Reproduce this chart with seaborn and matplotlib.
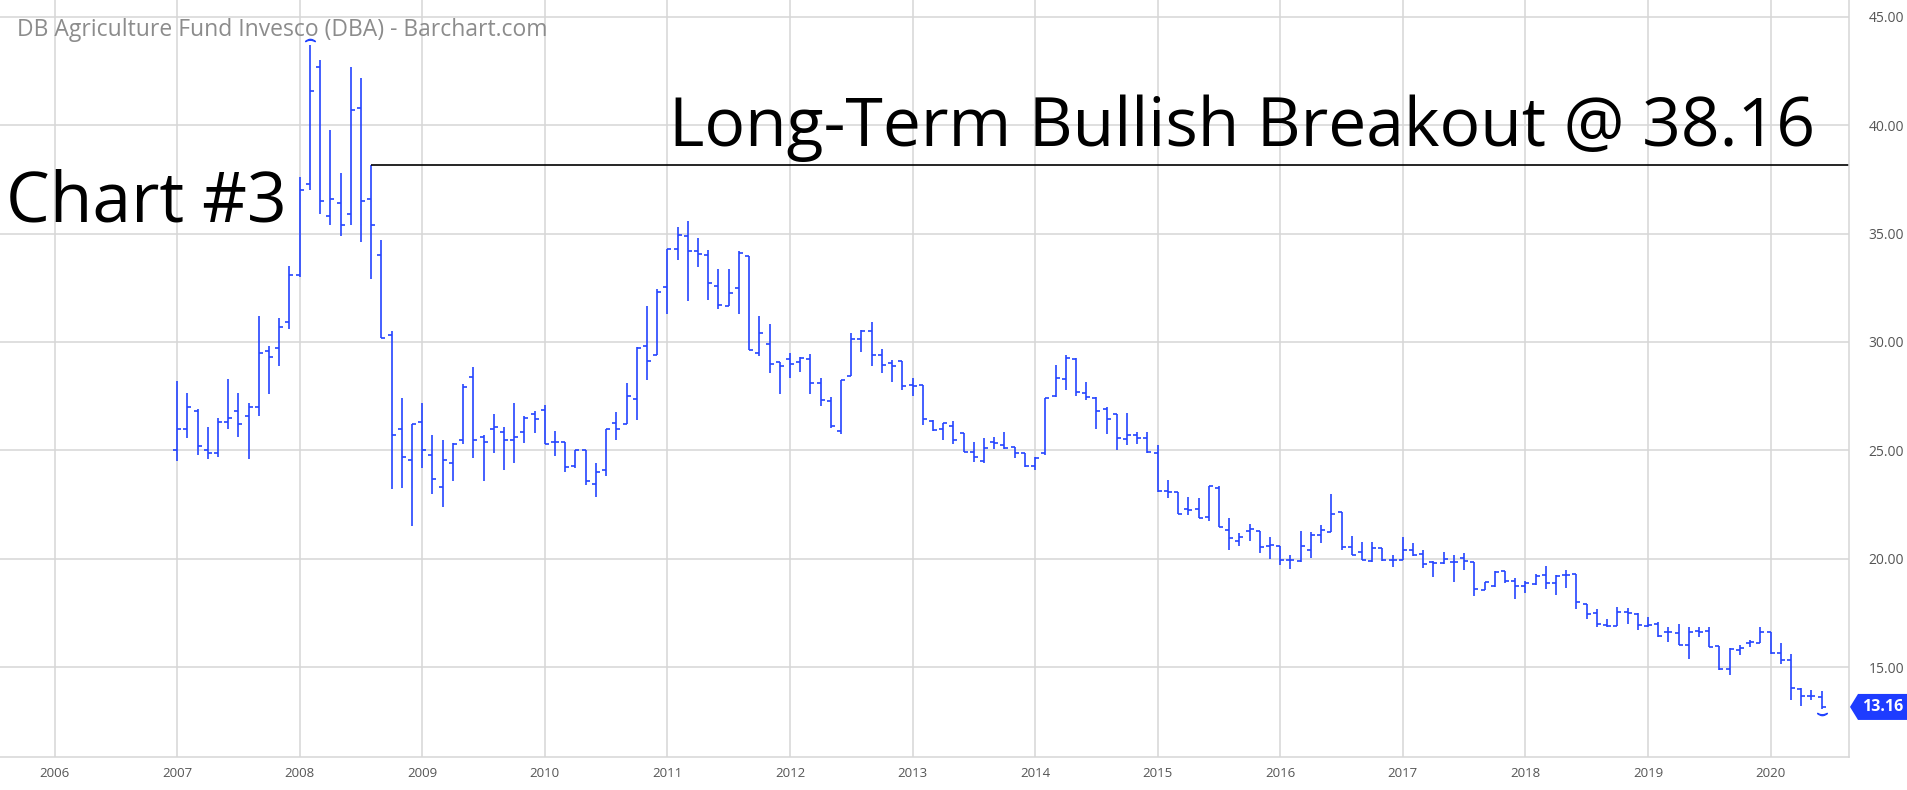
import numpy as np
import pandas as pd
import matplotlib
matplotlib.use("Agg")
import matplotlib.pyplot as plt
import matplotlib.transforms as mtransforms
from matplotlib.patches import Polygon
import seaborn as sns

# monthly OHLC, Jan 2007 .. Jun 2020
opens = [
    25.0, 26.0, 26.8, 25.0, 24.9, 26.3, 26.8, 26.6, 27.0, 29.6, 29.7, 30.9,
    33.1, 37.3, 42.7, 35.8, 36.4, 35.9, 40.8, 36.6, 34.0, 30.3, 26.0, 24.55,
    26.3, 24.8, 23.3, 24.4, 25.5, 28.4, 25.6, 26.0, 25.85, 25.5, 25.85, 26.7,
    26.85, 25.4, 25.4, 24.3, 25.0, 23.45, 24.1, 26.25, 26.2, 27.35, 29.8, 29.4,
    32.55, 34.3, 34.9, 34.2, 34.0, 32.6, 31.67, 32.5, 33.96, 29.5, 29.92, 29.06,
    29.23, 29.08, 29.2, 28.1, 27.27, 25.9, 28.42, 30.14, 30.5, 29.42, 29.03, 29.1,
    28.0, 28.0, 26.35, 25.97, 26.12, 25.8, 24.92, 24.5, 25.38, 25.23, 25.17, 24.9,
    24.28, 24.86, 27.5, 28.3, 29.2, 27.65, 27.42, 26.92, 26.66, 25.54, 25.7, 25.58,
    24.86, 23.13, 23.1, 22.28, 22.28, 21.93, 23.28, 21.33, 20.8, 21.3, 21.29, 20.6,
    20.57, 19.95, 19.88, 20.39, 21.09, 21.24, 22.14, 20.54, 20.31, 19.88, 20.5, 19.92,
    19.95, 20.42, 20.2, 19.84, 19.81, 19.84, 20.03, 19.84, 18.57, 18.73, 19.43, 18.99,
    18.76, 18.81, 19.24, 18.89, 19.24, 19.29, 17.9, 17.5, 16.96, 16.89, 17.55, 17.47,
    16.89, 17.01, 16.63, 16.55, 16.01, 16.66, 16.66, 15.96, 14.93, 15.81, 16.13, 16.13,
    16.63, 15.65, 15.32, 14.01, 13.65, 13.62,
]
highs = [
    28.2, 27.65, 26.9, 26.1, 26.5, 28.3, 27.65, 27.2, 31.2, 29.8, 31.1, 33.5,
    37.6, 43.7, 43.0, 39.8, 37.8, 42.7, 42.2, 38.16, 34.7, 30.5, 27.4, 26.2,
    27.2, 25.7, 25.5, 25.35, 28.05, 28.85, 25.7, 26.7, 26.1, 27.2, 26.6, 26.8,
    27.1, 25.9, 25.4, 25.0, 25.0, 24.4, 26.0, 26.75, 28.1, 29.75, 31.67, 32.45,
    34.3, 35.3, 35.57, 34.8, 34.24, 33.35, 33.35, 34.2, 33.96, 31.2, 30.84, 29.06,
    29.5, 29.3, 29.46, 28.34, 27.47, 28.24, 30.41, 30.57, 30.9, 29.68, 29.16, 29.1,
    28.34, 28.0, 26.4, 26.27, 26.35, 25.8, 25.4, 25.55, 25.63, 25.84, 25.17, 24.9,
    24.7, 27.42, 28.93, 29.39, 29.26, 28.14, 27.47, 27.0, 26.66, 26.73, 25.86, 25.86,
    25.23, 23.64, 23.1, 22.87, 22.8, 23.36, 23.36, 21.86, 21.18, 21.6, 21.29, 20.98,
    20.6, 20.19, 21.27, 21.24, 21.55, 23.0, 22.14, 21.04, 20.78, 20.78, 20.5, 20.16,
    20.98, 20.73, 20.42, 19.88, 20.31, 20.16, 20.26, 19.84, 18.94, 19.41, 19.43, 19.1,
    18.99, 19.29, 19.66, 19.24, 19.5, 19.29, 17.9, 17.66, 17.2, 17.78, 17.74, 17.5,
    17.32, 17.09, 16.86, 16.98, 16.83, 16.86, 16.86, 15.96, 15.86, 16.01, 16.27, 16.83,
    16.63, 16.09, 15.59, 14.05, 13.93, 13.88,
]
lows = [
    24.5, 25.55, 24.8, 24.6, 24.7, 26.0, 25.6, 24.6, 26.6, 27.6, 28.9, 30.6,
    33.0, 37.0, 35.9, 35.4, 34.9, 35.4, 34.6, 32.9, 30.2, 23.2, 23.25, 21.5,
    24.2, 23.0, 22.4, 23.6, 25.3, 24.65, 23.6, 24.9, 24.1, 24.4, 25.35, 25.8,
    25.3, 24.75, 24.0, 24.2, 23.4, 22.86, 23.8, 25.5, 26.2, 26.4, 28.24, 29.4,
    31.3, 33.8, 31.87, 33.44, 31.94, 31.5, 31.64, 31.3, 29.65, 29.34, 28.57, 27.6,
    28.34, 28.6, 27.58, 27.04, 26.04, 25.74, 28.42, 29.52, 28.9, 28.57, 28.14, 27.8,
    27.5, 26.17, 25.9, 25.47, 25.28, 24.94, 24.48, 24.4, 25.05, 25.05, 24.66, 24.25,
    24.1, 24.8, 27.47, 27.8, 27.5, 27.32, 26.0, 25.77, 25.0, 25.25, 25.28, 24.86,
    23.08, 22.8, 22.05, 22.0, 21.86, 21.75, 21.44, 20.41, 20.6, 20.83, 20.26, 19.98,
    19.7, 19.53, 19.84, 20.05, 20.73, 21.24, 20.42, 20.16, 19.92, 19.84, 19.89, 19.61,
    19.95, 20.11, 19.58, 19.14, 19.77, 18.91, 19.5, 18.29, 18.56, 18.71, 18.88, 18.14,
    18.4, 18.78, 18.58, 18.32, 18.63, 17.7, 17.24, 16.83, 16.83, 16.89, 17.01, 16.7,
    16.83, 16.39, 16.16, 16.01, 15.39, 16.39, 15.93, 14.88, 14.62, 15.55, 15.93, 16.09,
    15.62, 15.13, 13.5, 13.19, 13.47, 13.08,
]
closes = [
    26.0, 27.0, 25.2, 24.9, 26.3, 26.5, 26.2, 27.0, 29.5, 29.3, 30.7, 33.1,
    37.0, 41.6, 36.5, 36.6, 35.4, 40.7, 36.5, 35.4, 30.2, 25.7, 24.7, 26.2,
    25.0, 23.7, 24.55, 25.3, 27.9, 25.5, 25.4, 26.1, 25.5, 25.6, 26.5, 26.45,
    25.3, 25.4, 24.25, 25.0, 23.6, 24.0, 26.0, 26.0, 27.5, 29.7, 29.1, 32.3,
    34.3, 34.95, 34.2, 34.08, 32.7, 31.7, 32.25, 34.1, 29.65, 30.4, 29.0, 28.88,
    29.0, 29.26, 28.1, 27.3, 26.12, 28.24, 30.14, 30.5, 29.42, 28.96, 28.88, 27.96,
    27.96, 26.43, 25.92, 26.24, 25.5, 24.94, 24.7, 25.1, 25.35, 25.1, 24.9, 24.28,
    24.66, 27.42, 28.34, 29.26, 27.68, 27.47, 26.8, 26.43, 25.58, 25.7, 25.58, 24.92,
    23.13, 23.1, 22.05, 22.25, 21.86, 23.36, 21.44, 20.94, 20.98, 21.37, 20.55, 20.64,
    19.95, 19.95, 20.59, 21.09, 21.32, 22.07, 20.54, 20.19, 19.95, 20.51, 19.92, 19.95,
    20.39, 20.16, 19.77, 19.81, 20.0, 19.84, 19.89, 18.6, 18.94, 19.38, 18.99, 18.76,
    18.87, 19.2, 18.86, 19.21, 19.24, 18.01, 17.47, 17.01, 16.89, 17.55, 17.5, 16.93,
    16.93, 16.43, 16.63, 16.04, 16.63, 16.63, 15.93, 14.93, 15.82, 15.86, 16.16, 16.63,
    15.65, 15.32, 14.05, 13.65, 13.65, 13.16,
]

years = list(range(2006, 2021))
y_ticks = [15, 20, 25, 30, 35, 40, 45]
breakout_level = 38.16
breakout_start = "2008-08-01"

dates = pd.date_range("2007-01-01", periods=len(opens), freq="MS")
df = pd.DataFrame({"date": dates, "open": opens, "high": highs,
                   "low": lows, "close": closes})
df["x"] = df["date"].dt.year + (df["date"].dt.month - 1) / 12


def dec_year(ts):
    ts = pd.Timestamp(ts)
    return ts.year + (ts.month - 1) / 12


sns.set_style("white")
plt.rcParams["font.family"] = ["Open Sans", "DejaVu Sans"]

W, H = 1907, 790
fig = plt.figure(figsize=(W / 100, H / 100), dpi=100)
ax = fig.add_axes([0, 1 - 757 / H, 1849 / W, 757 / H])

blue = "#2444ff"
grid = "#d6d6d6"

ax.set_xlim(2005.555, 2020.64)
ax.set_ylim(10.85, 45.78)

# grid
ax.set_xticks(years)
ax.set_xticklabels([str(y) for y in years])
ax.set_yticks(y_ticks)
ax.set_yticklabels([f"{v:.2f}" for v in y_ticks])
ax.grid(True, color=grid, lw=1.1)
ax.set_axisbelow(True)

# OHLC bars
ax.vlines(df["x"], df["low"], df["high"], color=blue, lw=1.2)
ax.plot(df["x"], df["open"], ls="none", marker=0, ms=2.8, mew=1.2, color=blue)
ax.plot(df["x"], df["close"], ls="none", marker=1, ms=2.8, mew=1.2, color=blue)

# high / low markers
i_hi = df["high"].idxmax()
i_lo = df.index[-1]
up = mtransforms.offset_copy(ax.transData, fig=fig, y=4, units="points")
dn = mtransforms.offset_copy(ax.transData, fig=fig, y=-4, units="points")
ax.plot(df.loc[i_hi, "x"], df.loc[i_hi, "high"], marker=r"$\frown$", ms=7,
        color=blue, transform=up)
ax.plot(df.loc[i_lo, "x"], df.loc[i_lo, "low"], marker=r"$\smile$", ms=7,
        color=blue, transform=dn)

# breakout line
ax.hlines(breakout_level, dec_year(breakout_start), 2020.64, color="black", lw=1.2)

# axes styling
for s in ["top", "left"]:
    ax.spines[s].set_visible(False)
for s in ["right", "bottom"]:
    ax.spines[s].set_color(grid)
    ax.spines[s].set_linewidth(1.1)
ax.yaxis.tick_right()
ax.tick_params(axis="y", length=0, pad=14, labelsize=10, labelcolor="#555555")
ax.tick_params(axis="x", length=0, pad=7, labelsize=9.5, labelcolor="#555555")

# texts
fig.text(17 / W, 1 - 30 / H, "DB Agriculture Fund Invesco (DBA) - Barchart.com",
         fontsize=16.5, color="#8c8c8c", va="center", ha="left")
fig.text(6 / W, 1 - 222 / H, "Chart #3", fontsize=50, color="black",
         va="baseline", ha="left")
fig.text(669 / W, 1 - 146 / H, "Long-Term Bullish Breakout @ 38.16", fontsize=48.9,
         color="black", va="baseline", ha="left")

# last price tag
last = df["close"].iloc[-1]
fig.canvas.draw()
ypix = ax.transData.transform((2020, last))[1]
x0 = 1850
pts = [(x0, ypix), (x0 + 8, ypix + 13), (W, ypix + 13), (W, ypix - 13), (x0 + 8, ypix - 13)]
pts = [(px / W, py / H) for px, py in pts]
fig.patches.append(Polygon(pts, closed=True, transform=fig.transFigure,
                           facecolor="#1e3cff", edgecolor="none"))
fig.text((x0 + 8 + W) / 2 / W, ypix / H, f"{last:.2f}", color="white",
         fontsize=11.5, fontweight="bold", ha="center", va="center")

fig.savefig("out.png", dpi=100)
